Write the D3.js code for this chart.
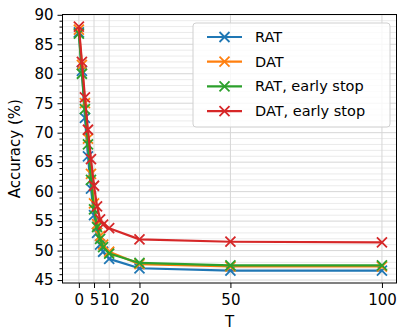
<!DOCTYPE html>
<html><head><meta charset="utf-8">
<script src="https://cdn.jsdelivr.net/npm/d3@7"></script>
<style>body{margin:0;background:#fff}svg{display:block}text{font-family:"DejaVu Sans",sans-serif}</style>
</head><body>
<svg id="c" width="400" height="332"></svg>
<script>
const T = [0,1,2,3,4,5,6,7,8,10,20,50,100];
const seriesNames = ["RAT","DAT","RAT, early stop","DAT, early stop"];
const colors = ["#1f77b4","#ff7f0e","#2ca02c","#d62728"];
const rat      = [87.0,80.5,72.5,66.0,60.5,56.0,53.0,51.0,49.8,48.6,47.0,46.6,46.6];
const dat      = [87.5,81.5,75.0,69.0,63.0,58.0,54.5,52.5,51.0,49.8,47.7,47.3,47.3];
const ratEarly = [86.8,80.0,74.0,68.0,62.0,57.0,54.0,52.0,50.6,49.5,47.9,47.5,47.5];
const datEarly = [88.0,82.0,76.0,70.5,65.5,61.0,57.5,55.3,54.4,53.8,51.9,51.5,51.4];
const xTicks = [0,5,10,20,50,100];
const yTicks = [45,50,55,60,65,70,75,80,85,90];
const series = [rat,dat,ratEarly,datEarly];

const L=62.5,R=396.5,Tp=14.5,B=283;
const svg=d3.select("#c");
const x=d3.scaleLinear().domain([-5.4,104.8]).range([L,R]);
const y=d3.scaleLinear().domain([44.5,90.05]).range([B,Tp]);

// minor grid
const minor=d3.range(45,91,1).filter(v=>v%5!==0);
svg.append("g").selectAll("line").data(minor).join("line")
  .attr("x1",L).attr("x2",R).attr("y1",d=>y(d)).attr("y2",d=>y(d))
  .attr("stroke","#e6e6e6").attr("stroke-width",0.8);
// major grid
svg.append("g").selectAll("line").data(yTicks).join("line")
  .attr("x1",L).attr("x2",R).attr("y1",d=>y(d)).attr("y2",d=>y(d))
  .attr("stroke","#d6d6d6").attr("stroke-width",1);
svg.append("g").selectAll("line").data(xTicks).join("line")
  .attr("y1",Tp).attr("y2",B).attr("x1",d=>x(d)).attr("x2",d=>x(d))
  .attr("stroke","#d6d6d6").attr("stroke-width",1);

// axes
const xa=svg.append("g").attr("transform",`translate(0,${B})`)
  .call(d3.axisBottom(x).tickValues(xTicks).tickSize(5).tickPadding(6).tickFormat(d3.format("d")));
const ya=svg.append("g").attr("transform",`translate(${L},0)`)
  .call(d3.axisLeft(y).tickValues(yTicks).tickSize(5).tickPadding(4).tickFormat(d3.format("d")));
svg.append("g").attr("transform",`translate(${L},0)`)
  .call(d3.axisLeft(y).tickValues(minor).tickSize(3).tickFormat(""))
  .call(g=>g.select(".domain").remove());
[xa,ya].forEach(g=>{g.selectAll("text").attr("font-size",15).attr("fill","#000");g.select(".domain").remove();g.selectAll("line").attr("stroke","#000")});
svg.selectAll(".tick line").attr("stroke","#000");

// lines
const line=d3.line().x((d,i)=>x(T[i])).y(d=>y(d));
series.forEach((s,k)=>{
  const g=svg.append("g");
  g.append("path").datum(s).attr("d",line).attr("fill","none").attr("stroke",colors[k]).attr("stroke-width",2.2).attr("stroke-linejoin","round");
  const m=5;
  g.selectAll("path.m").data(s).join("path").attr("class","m")
    .attr("d",(d,i)=>{const cx=x(T[i]),cy=y(d);return `M${cx-m},${cy-m}L${cx+m},${cy+m}M${cx-m},${cy+m}L${cx+m},${cy-m}`})
    .attr("stroke",colors[k]).attr("stroke-width",1.8).attr("fill","none");
});

// frame
svg.append("rect").attr("x",L).attr("y",Tp).attr("width",R-L).attr("height",B-Tp)
  .attr("fill","none").attr("stroke","#000").attr("stroke-width",1);

// labels
svg.append("text").attr("x",(L+R)/2).attr("y",327).attr("text-anchor","middle").attr("font-size",15).text("T");
svg.append("text").attr("transform",`translate(20,${(Tp+B)/2}) rotate(-90)`).attr("text-anchor","middle").attr("font-size",15).text("Accuracy (%)");

// legend
const lg=svg.append("g");
lg.append("rect").attr("x",193).attr("y",23).attr("width",197).attr("height",104).attr("rx",3)
  .attr("fill","rgba(255,255,255,0.8)").attr("stroke","#d0d0d0");
seriesNames.forEach((n,k)=>{
  const yy=37+k*24.7;
  lg.append("line").attr("x1",207).attr("x2",242).attr("y1",yy).attr("y2",yy).attr("stroke",colors[k]).attr("stroke-width",2.2);
  const cx=224.5,m=5;
  lg.append("path").attr("d",`M${cx-m},${yy-m}L${cx+m},${yy+m}M${cx-m},${yy+m}L${cx+m},${yy-m}`).attr("stroke",colors[k]).attr("stroke-width",1.8);
  lg.append("text").attr("x",255).attr("y",yy+5).attr("font-size",14.5).text(n);
});
</script>
</body></html>
